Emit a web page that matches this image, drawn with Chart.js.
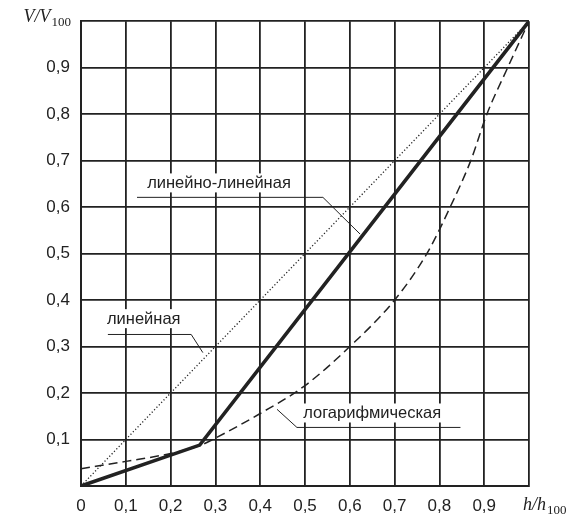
<!DOCTYPE html>
<html>
<head>
<meta charset="utf-8">
<script src="https://cdn.jsdelivr.net/npm/chart.js@4/dist/chart.umd.min.js"></script>
<style>
html,body{margin:0;padding:0;background:#fff;}
#wrap{width:571px;height:520px;position:relative;}
</style>
</head>
<body>
<div id="wrap"><canvas id="c" width="571" height="520"></canvas></div>
<script>
// ---- data ----
const hLinear = [0, 1];
const vLinear = [0, 1];
const hLinLin = [0, 0.265, 1];
const vLinLin = [0, 0.088, 1];
const hLog = [0, 0.1, 0.2, 0.265, 0.3, 0.4, 0.5, 0.6, 0.7, 0.772, 0.824, 0.87, 0.906, 0.95, 1];
const vLog = [0.037, 0.053, 0.07, 0.087, 0.103, 0.156, 0.216, 0.3, 0.4, 0.5, 0.6, 0.7, 0.8, 0.895, 1];
const labels = ['линейная', 'линейно-линейная', 'логарифмическая'];
const yTitle = ['V/V', '100'];
const xTitle = ['h/h', '100'];

const pts = (xs, ys) => xs.map((x, i) => ({x: x, y: ys[i]}));
const INK = '#222';
const fmt = v => (Math.abs(v) < 1e-9 ? '0' : v.toFixed(1).replace('.', ','));

// annotation placement (data coordinates)
const notes = [
  {text: labels[1], tx: 0.308, ty: 0.651, line: [[0.125, 0.621], [0.540, 0.621], [0.623, 0.542]]},
  {text: labels[0], tx: 0.14, ty: 0.359, line: [[0.06, 0.326], [0.246, 0.326], [0.272, 0.287]]},
  {text: labels[2], tx: 0.65, ty: 0.156, line: [[0.847, 0.126], [0.482, 0.126], [0.4375, 0.165]]}
];

const annot = {
  id: 'annot',
  afterDatasetsDraw(chart) {
    const {ctx, chartArea, scales: {x, y}} = chart;
    ctx.save();
    ctx.strokeStyle = INK;
    ctx.lineWidth = 1;
    notes.forEach(n => {
      ctx.beginPath();
      n.line.forEach((p, i) => {
        const px = x.getPixelForValue(p[0]), py = y.getPixelForValue(p[1]);
        i ? ctx.lineTo(px, py) : ctx.moveTo(px, py);
      });
      ctx.stroke();
      const tx = x.getPixelForValue(n.tx), ty = y.getPixelForValue(n.ty);
      ctx.font = '16.5px "Liberation Sans", Arial, sans-serif';
      ctx.textAlign = 'center';
      ctx.textBaseline = 'middle';
      const w = ctx.measureText(n.text).width;
      ctx.fillStyle = '#fff';
      ctx.fillRect(tx - w / 2 - 3, ty - 10, w + 6, 19);
      ctx.fillStyle = INK;
      ctx.fillText(n.text, tx, ty);
    });
    // axis titles
    const drawTitle = (parts, xr, yb, align) => {
      ctx.textBaseline = 'alphabetic';
      ctx.textAlign = 'left';
      ctx.font = 'italic 18px "Liberation Serif", "Times New Roman", serif';
      const w1 = ctx.measureText(parts[0]).width;
      ctx.font = '13px "Liberation Serif", "Times New Roman", serif';
      const w2 = ctx.measureText(parts[1]).width;
      const x0 = align === 'right' ? xr - w1 - w2 : xr;
      ctx.font = 'italic 18px "Liberation Serif", "Times New Roman", serif';
      ctx.fillText(parts[0], x0, yb);
      ctx.font = '13px "Liberation Serif", "Times New Roman", serif';
      ctx.fillText(parts[1], x0 + w1 + 1, yb + 4);
    };
    ctx.fillStyle = INK;
    drawTitle(yTitle, chartArea.left - 11, chartArea.top + 1, 'right');
    drawTitle(xTitle, chartArea.right - 6, chartArea.bottom + 24, 'left');
    ctx.restore();
  }
};

new Chart(document.getElementById('c'), {
  type: 'scatter',
  data: {
    datasets: [
      {label: labels[0], data: pts(hLinear, vLinear), showLine: true, borderColor: INK, borderWidth: 1.3, borderDash: [1.2, 2.2], pointRadius: 0},
      {label: labels[1], data: pts(hLinLin, vLinLin), showLine: true, borderColor: INK, borderWidth: 3.6, pointRadius: 0},
      {label: labels[2], data: pts(hLog, vLog), showLine: true, borderColor: INK, borderWidth: 1.5, borderDash: [9, 5], cubicInterpolationMode: 'monotone', pointRadius: 0}
    ]
  },
  options: {
    responsive: false,
    animation: false,
    layout: {padding: {top: 19, right: 42, left: 0, bottom: 0}},
    plugins: {legend: {display: false}, tooltip: {enabled: false}},
    scales: {
      x: {
        type: 'linear', min: 0, max: 1,
        afterFit: s => { s.height = 34; },
        border: {color: INK, width: 2},
        grid: {color: INK, lineWidth: 1.8, drawTicks: false},
        ticks: {stepSize: 0.1, padding: 10, color: INK, font: {size: 17, family: '"Liberation Sans", Arial, sans-serif'},
          callback: v => (Math.abs(v - 1) < 1e-9 ? '' : fmt(v))}
      },
      y: {
        type: 'linear', min: 0, max: 1,
        afterFit: s => { s.width = 81; },
        border: {color: INK, width: 2},
        grid: {color: INK, lineWidth: 1.8, drawTicks: false},
        ticks: {stepSize: 0.1, padding: 11, color: INK, font: {size: 17, family: '"Liberation Sans", Arial, sans-serif'},
          callback: v => (Math.abs(v) < 1e-9 || Math.abs(v - 1) < 1e-9 ? '' : fmt(v))}
      }
    }
  },
  plugins: [annot]
});
</script>
</body>
</html>
